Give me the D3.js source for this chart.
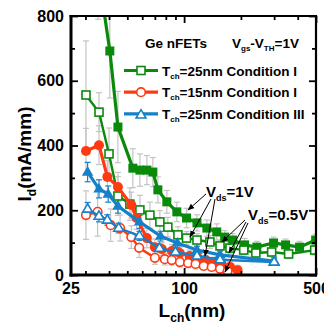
<!DOCTYPE html>
<html><head><meta charset="utf-8">
<script src="https://cdn.jsdelivr.net/npm/d3@7"></script>
<style>body{margin:0;background:#fff}svg{display:block;font-family:"Liberation Sans",Arial,sans-serif;font-weight:bold}</style>
</head><body><svg id="c" width="324" height="329"></svg>
<script>
// ---- data ----
const gFillL = [35, 40.4, 44.6, 53.5, 58.3, 63.5, 68.3, 72.6, 81, 91.5, 103, 117, 132, 149, 164, 181, 209, 243, 298, 345, 409, 498];
const gFillI = [940, 692, 457, 330, 324, 324, 318, 263, 226, 195, 176, 161, 145, 133, 117, 108, 93, 86, 99, 93, 86, 108];
const gFillE = [150, 145, 110, 60, 50, 45, 45, 40, 35, 30, 30, 25, 25, 25, 20, 20, 20, 18, 18, 18, 18, 18];
const gOpenL = [30.2, 35.4, 40, 44.6, 51.6, 58.3, 65.9, 74.4, 82, 92.7, 103, 117, 137, 155, 175, 207, 240, 291, 358, 492];
const gOpenI = [556, 503, 374, 244, 219, 201, 185, 164, 148, 124, 114, 108, 102, 90, 83, 77, 68, 71, 65, 77];
const gOpenE = [167, 60, 80, 60, 50, 45, 40, 35, 30, 25, 20, 20, 20, 18, 18, 15, 15, 15, 15, 15];
const rFillL = [30.2, 35.4, 39.2, 44.6, 52.5, 56, 63.5, 70, 76.2, 86.1, 94.9, 107, 118, 130, 144, 158, 175, 192];
const rFillI = [383, 401, 303, 272, 216, 176, 114, 86, 80, 74, 68, 59, 53, 46, 40, 34, 25, 15];
const rFillE = [70, 60, 50, 45, 40, 35, 30, 25, 20, 20, 18, 18, 15, 15, 15, 15, 15, 15];
const rOpenL = [30.2, 34.8, 40.8, 45.8, 52.5, 57.8, 70, 79, 86, 95, 105, 115, 127, 140, 155, 170];
const rOpenI = [185, 195, 154, 145, 117, 84, 53, 49, 46, 40, 37, 34, 28, 25, 19, 12];
const rOpenE = [75, 75, 50, 40, 35, 30, 20, 18, 15, 15, 15, 15, 12, 12, 12, 12];
const bFillL = [30.8, 35.4, 39.6, 44.6, 58, 75, 92, 117, 155, 300];
const bFillI = [318, 266, 250, 213, 164, 120, 99, 77, 62, 43];
const bFillE = [30, 28, 25, 22, 20, 15, 15, 12, 12, 12];
const bOpenL = [30.8, 35.4, 39.2, 45, 58, 74, 90, 117, 155, 300];
const bOpenI = [204, 182, 170, 145, 121, 83, 71, 59, 47, 40];
const bOpenE = [20, 18, 16, 15, 14, 12, 12, 10, 10, 10];
const xMinorTicks = [30, 40, 50, 60, 70, 80, 90, 200, 300, 400];
const xMajorTicks = [25, 100, 500];
const yMinorTicks = [100, 300, 500, 700];
const yMajorTicks = [0, 200, 400, 600, 800];
const legendLabels = ["=25nm Condition I", "=15nm Condition I", "=25nm Condition III"];

const GREEN = "#0a8a0a", RED = "#ff3a12", BLUE = "#1680c8", GREY = "#c4c4c4";

const svg = d3.select("#c");
const x = d3.scaleLog().domain([25, 500]).range([70.5, 316]);
const y = d3.scaleLinear().domain([0, 800]).range([275, 16]);

svg.append("clipPath").attr("id", "clip").append("rect")
  .attr("x", 71).attr("y", 16).attr("width", 245).attr("height", 259);
const plot = svg.append("g").attr("clip-path", "url(#clip)");

const series = [
  {L: gFillL, I: gFillI, E: gFillE, c: GREEN, m: "sq", fill: true, ec: GREY},
  {L: gOpenL, I: gOpenI, E: gOpenE, c: GREEN, m: "sq", fill: false, ec: GREY},
  {L: rFillL, I: rFillI, E: rFillE, c: RED, m: "ci", fill: true, ec: GREY},
  {L: rOpenL, I: rOpenI, E: rOpenE, c: RED, m: "ci", fill: false, ec: GREY},
  {L: bFillL, I: bFillI, E: bFillE, c: BLUE, m: "tr", fill: true, ec: BLUE},
  {L: bOpenL, I: bOpenI, E: bOpenE, c: BLUE, m: "tr", fill: false, ec: BLUE}
];

// error bars (behind)
series.forEach(s => {
  const g = plot.append("g").attr("stroke", s.ec).attr("stroke-width", 1.2);
  s.L.forEach((l, i) => {
    const cx = x(l), y1 = y(s.I[i] + s.E[i]), y2 = y(s.I[i] - s.E[i]);
    g.append("line").attr("x1", cx).attr("x2", cx).attr("y1", y1).attr("y2", y2);
    g.append("line").attr("x1", cx - 3).attr("x2", cx + 3).attr("y1", y1).attr("y2", y1);
    g.append("line").attr("x1", cx - 3).attr("x2", cx + 3).attr("y1", y2).attr("y2", y2);
  });
});

function marker(g, type, cx, cy, c, fill) {
  if (type === "sq") {
    const s = fill ? 9 : 8;
    g.append("rect").attr("x", cx - s / 2).attr("y", cy - s / 2).attr("width", s).attr("height", s)
      .attr("fill", fill ? c : "#fff").attr("stroke", c).attr("stroke-width", fill ? 0 : 1.6);
  } else if (type === "ci") {
    g.append("circle").attr("cx", cx).attr("cy", cy).attr("r", fill ? 5 : 4.3)
      .attr("fill", fill ? c : "#fff").attr("stroke", c).attr("stroke-width", fill ? 0 : 1.6);
  } else {
    const r = fill ? 6 : 5.2;
    g.append("path").attr("d", `M${cx},${cy - r}L${cx + r * 0.95},${cy + r * 0.6}L${cx - r * 0.95},${cy + r * 0.6}Z`)
      .attr("fill", fill ? c : "#fff").attr("stroke", c).attr("stroke-width", fill ? 0 : 1.6);
  }
}

const line = d3.line().x(d => x(d[0])).y(d => y(d[1]));
series.forEach(s => {
  const pts = s.L.map((l, i) => [l, s.I[i]]);
  plot.append("path").attr("d", line(pts)).attr("fill", "none").attr("stroke", s.c)
    .attr("stroke-width", s.fill ? 3.2 : 2.4);
  const g = plot.append("g");
  pts.forEach(p => marker(g, s.m, x(p[0]), y(p[1]), s.c, s.fill));
});

// axes
const tickStyle = g => { g.select(".domain").remove(); g.selectAll("line").attr("stroke", "#000").attr("stroke-width", 1.8); };
const labStyle = sel => sel.attr("font-size", 16).attr("font-weight", "bold").attr("fill", "#000")
  .attr("font-family", '"Liberation Sans",Arial,sans-serif');
svg.append("g").attr("transform", "translate(0,275)")
  .call(d3.axisBottom(x).tickValues(xMinorTicks).tickSize(-4).tickFormat("")).call(tickStyle);
svg.append("g").attr("transform", "translate(0,275)")
  .call(d3.axisBottom(x).tickValues(xMajorTicks).tickSize(-7).tickPadding(8).tickFormat(d => d)).call(tickStyle)
  .selectAll("text").call(labStyle);
svg.append("g").attr("transform", "translate(0,16)")
  .call(d3.axisTop(x).tickValues(xMinorTicks).tickSize(-4).tickFormat("")).call(tickStyle);
svg.append("g").attr("transform", "translate(0,16)")
  .call(d3.axisTop(x).tickValues(xMajorTicks).tickSize(-7).tickFormat("")).call(tickStyle);
svg.append("g").attr("transform", "translate(71,0)")
  .call(d3.axisLeft(y).tickValues(yMinorTicks).tickSize(-4).tickFormat("")).call(tickStyle);
svg.append("g").attr("transform", "translate(71,0)")
  .call(d3.axisLeft(y).tickValues(yMajorTicks).tickSize(-7).tickPadding(7).tickFormat(d => d)).call(tickStyle)
  .selectAll("text").call(labStyle);
svg.append("g").attr("transform", "translate(316,0)")
  .call(d3.axisRight(y).tickValues(yMinorTicks).tickSize(-4).tickFormat("")).call(tickStyle);
svg.append("g").attr("transform", "translate(316,0)")
  .call(d3.axisRight(y).tickValues(yMajorTicks).tickSize(-7).tickFormat("")).call(tickStyle);

// frame
svg.append("line").attr("x1", 71).attr("x2", 71).attr("y1", 15).attr("y2", 276.5).attr("stroke", "#000").attr("stroke-width", 3);
svg.append("line").attr("x1", 69.5).attr("x2", 317).attr("y1", 275).attr("y2", 275).attr("stroke", "#000").attr("stroke-width", 3);
svg.append("line").attr("x1", 69.5).attr("x2", 317).attr("y1", 16).attr("y2", 16).attr("stroke", "#000").attr("stroke-width", 2.2);
svg.append("line").attr("x1", 316).attr("x2", 316).attr("y1", 15).attr("y2", 276.5).attr("stroke", "#000").attr("stroke-width", 2.2);

// axis titles
const yt = svg.append("text").attr("transform", "translate(31,154) rotate(-90)").attr("text-anchor", "middle").attr("font-size", 19);
yt.append("tspan").text("I");
yt.append("tspan").attr("font-size", 12).attr("dy", 5).text("d");
yt.append("tspan").attr("dy", -5).text("(mA/mm)");
const xt = svg.append("text").attr("x", 192).attr("y", 317).attr("text-anchor", "middle").attr("font-size", 19);
xt.append("tspan").text("L");
xt.append("tspan").attr("font-size", 12).attr("dy", 5).text("ch");
xt.append("tspan").attr("dy", -5).text("(nm)");

// legend
svg.append("text").attr("x", 145).attr("y", 48).attr("font-size", 13.5).text("Ge nFETs");
const lt = svg.append("text").attr("x", 232).attr("y", 48).attr("font-size", 13.5);
lt.append("tspan").text("V");
lt.append("tspan").attr("font-size", 8).attr("dy", 3).text("gs");
lt.append("tspan").attr("dy", -3).text("-V");
lt.append("tspan").attr("font-size", 8).attr("dy", 3).text("TH");
lt.append("tspan").attr("dy", -3).text("=1V");
const legCols = [GREEN, RED, BLUE], legM = ["sq", "ci", "tr"];
legendLabels.forEach((lab, i) => {
  const yy = 70.5 + i * 21.7;
  svg.append("line").attr("x1", 124).attr("x2", 158).attr("y1", yy).attr("y2", yy).attr("stroke", legCols[i]).attr("stroke-width", 3.2);
  marker(svg, legM[i], 141, yy + (legM[i] === "tr" ? 1 : 0), legCols[i], false);
  const t = svg.append("text").attr("x", 162).attr("y", yy + 5).attr("font-size", 13.5);
  t.append("tspan").text("T");
  t.append("tspan").attr("font-size", 8).attr("dy", 3).text("ch");
  t.append("tspan").attr("dy", -3).text(lab);
});

// annotations
const a1 = svg.append("text").attr("x", 206).attr("y", 197).attr("font-size", 15);
a1.append("tspan").text("V");
a1.append("tspan").attr("font-size", 9).attr("dy", 4).text("ds");
a1.append("tspan").attr("dy", -4).text("=1V");
const a2 = svg.append("text").attr("x", 248).attr("y", 220).attr("font-size", 15);
a2.append("tspan").text("V");
a2.append("tspan").attr("font-size", 9).attr("dy", 4).text("ds");
a2.append("tspan").attr("dy", -4).text("=0.5V");

svg.append("defs").append("marker").attr("id", "ah").attr("viewBox", "0 0 10 10").attr("refX", 9).attr("refY", 5)
  .attr("markerWidth", 7).attr("markerHeight", 7).attr("orient", "auto-start-reverse")
  .append("path").attr("d", "M0,1L10,5L0,9Z").attr("fill", "#000");
const arrows = [
  [206, 194, 188, 210], [211, 199, 190, 237], [215, 199, 205, 256],
  [245, 220, 222, 242], [246, 222, 229, 253], [248, 223, 225, 272]
];
arrows.forEach(a => svg.append("line").attr("x1", a[0]).attr("y1", a[1]).attr("x2", a[2]).attr("y2", a[3])
  .attr("stroke", "#000").attr("stroke-width", 1).attr("marker-end", "url(#ah)"));
</script></body></html>
